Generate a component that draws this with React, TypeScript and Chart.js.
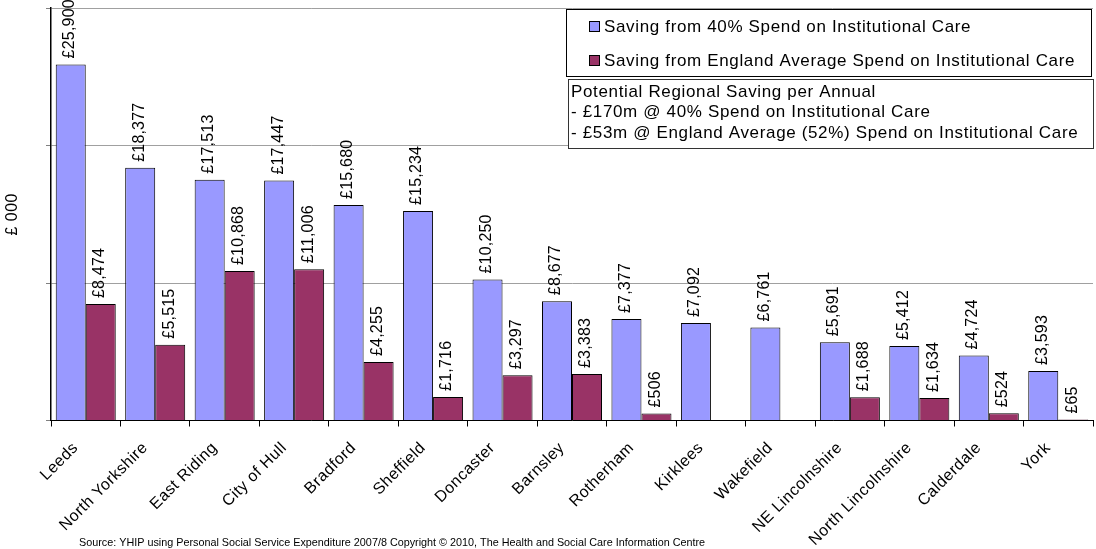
import React, { useEffect, useRef } from 'react';
import { Chart, registerables } from 'chart.js';

Chart.register(...registerables);

const categories = [
  'Leeds', 'North Yorkshire', 'East Riding', 'City of Hull', 'Bradford', 'Sheffield',
  'Doncaster', 'Barnsley', 'Rotherham', 'Kirklees', 'Wakefield', 'NE Lincolnshire',
  'North Lincolnshire', 'Calderdale', 'York',
];
const saving40 = [25900, 18377, 17513, 17447, 15680, 15234, 10250, 8677, 7377, 7092, 6761, 5691, 5412, 4724, 3593];
const savingEngland = [8474, 5515, 10868, 11006, 4255, 1716, 3297, 3383, 506, null, null, 1688, 1634, 524, 65];
const seriesLabels = [
  'Saving from 40% Spend on Institutional Care',
  'Saving from England Average Spend on Institutional Care',
];
const seriesColors = ['#9999FF', '#993366'];
const noteLines = [
  'Potential Regional Saving per Annual',
  '- £170m @ 40% Spend on Institutional Care',
  '- £53m @ England Average (52%) Spend on Institutional Care',
];
const yTitle = '£ 000';
const sourceText =
  'Source: YHIP using Personal Social Service Expenditure 2007/8 Copyright © 2010, The Health and Social Care Information Centre';
const yMin = 0;
const yMax = 30000;
const yStep = 10000;

const FONT = "'Liberation Sans', Arial, sans-serif";

const fmt = (v: number) => '£' + v.toLocaleString('en-GB');

const spacingPlugin = {
  id: 'spacing',
  beforeDraw(chart: any) {
    (chart.ctx as any).letterSpacing = '0.5px';
  },
};

const overlayPlugin = {
  id: 'overlay',
  afterDatasetsDraw(chart: any) {
    const ctx = chart.ctx as any;
    ctx.save();
    ctx.letterSpacing = '0.2px';
    ctx.font = `16px ${FONT}`;
    ctx.fillStyle = '#000';
    ctx.textAlign = 'left';
    ctx.textBaseline = 'middle';
    chart.data.datasets.forEach((ds: any, di: number) => {
      const meta = chart.getDatasetMeta(di);
      meta.data.forEach((el: any, i: number) => {
        const v = ds.data[i];
        if (v === null || v === undefined) return;
        ctx.save();
        ctx.translate(el.x - 1, el.y - 6);
        ctx.rotate(-Math.PI / 2);
        ctx.fillText(fmt(v), 0, 0);
        ctx.restore();
      });
    });
    ctx.restore();
  },
  afterDraw(chart: any) {
    const ctx = chart.ctx as any;
    ctx.save();
    // Legend box
    ctx.fillStyle = '#fff';
    ctx.strokeStyle = '#000';
    ctx.lineWidth = 1;
    ctx.fillRect(566.5, 9.5, 525, 67);
    ctx.strokeRect(566.5, 9.5, 525, 67);
    ctx.font = `17px ${FONT}`;
    ctx.letterSpacing = '0.65px';
    ctx.textBaseline = 'middle';
    ctx.textAlign = 'left';
    const itemY = [27, 61];
    seriesLabels.forEach((lab, i) => {
      ctx.fillStyle = seriesColors[i];
      ctx.fillRect(589.5, itemY[i] - 5.5, 10, 10);
      ctx.strokeStyle = '#000';
      ctx.strokeRect(589.5, itemY[i] - 5.5, 10, 10);
      ctx.fillStyle = '#000';
      ctx.fillText(lab, 604, itemY[i]);
    });
    // Note box
    ctx.fillStyle = '#fff';
    ctx.fillRect(568.5, 79.5, 525, 69);
    ctx.strokeStyle = '#333';
    ctx.strokeRect(568.5, 79.5, 525, 69);
    ctx.fillStyle = '#000';
    const noteY = [92, 112.5, 133];
    noteLines.forEach((t, i) => ctx.fillText(t, 571, noteY[i]));
    // Source
    ctx.letterSpacing = '0px';
    ctx.font = `10.8px ${FONT}`;
    ctx.fillText(sourceText, 79, 543);
    ctx.restore();
  },
};

export default function App() {
  const ref = useRef<HTMLCanvasElement>(null);
  useEffect(() => {
    const chart = new Chart(ref.current as HTMLCanvasElement, {
      type: 'bar',
      data: {
        labels: categories,
        datasets: [
          {
            label: seriesLabels[0],
            data: saving40,
            backgroundColor: seriesColors[0],
            borderColor: '#000',
            borderWidth: 1,
            categoryPercentage: 0.864,
            barPercentage: 1,
          },
          {
            label: seriesLabels[1],
            data: savingEngland as any,
            backgroundColor: seriesColors[1],
            borderColor: '#000',
            borderWidth: 1,
            categoryPercentage: 0.864,
            barPercentage: 1,
          },
        ],
      },
      options: {
        animation: false,
        responsive: false,
        devicePixelRatio: 1,
        layout: { padding: { top: 8, right: 3, left: 0, bottom: 0 } },
        plugins: {
          legend: { display: false },
          tooltip: { enabled: false },
        },
        scales: {
          x: {
            offset: true,
            grid: {
              offset: true,
              drawOnChartArea: false,
              drawTicks: true,
              tickLength: 6,
              color: '#000',
            },
            border: { color: '#000', width: 1 },
            ticks: {
              autoSkip: false,
              maxRotation: 45,
              minRotation: 45,
              padding: 12,
              labelOffset: -10,
              color: '#000',
              font: { family: FONT, size: 16 },
            },
            afterFit: (s: any) => {
              s.height = 128.5;
            },
          },
          y: {
            min: yMin,
            max: yMax,
            ticks: { stepSize: yStep, display: false },
            grid: { color: '#a0a0a0', tickColor: '#808080', tickLength: 5, drawTicks: true },
            border: { color: '#000', width: 1.5 },
            title: {
              display: true,
              text: yTitle,
              color: '#000',
              font: { family: FONT, size: 16 },
              padding: { top: 3, bottom: 0 },
            },
            afterFit: (s: any) => {
              s.width = 51;
            },
          },
        },
      },
      plugins: [spacingPlugin, overlayPlugin],
    });
    return () => chart.destroy();
  }, []);
  return (
    <div style={{ position: 'absolute', left: 0, top: 0, width: 1096, height: 549, background: '#fff' }}>
      <canvas ref={ref} width={1096} height={549} style={{ display: 'block' }} />
    </div>
  );
}
